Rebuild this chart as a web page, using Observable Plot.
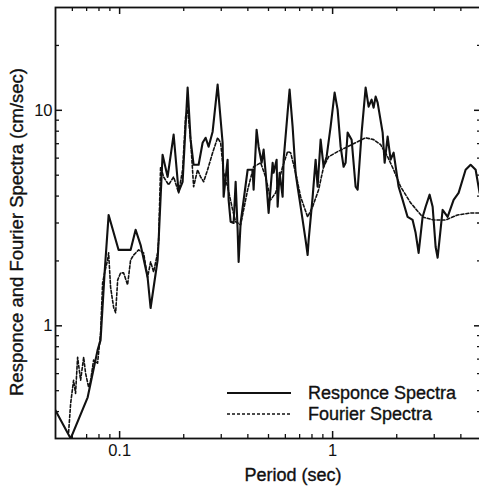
<!DOCTYPE html>
<html><head><meta charset="utf-8">
<script src="https://cdn.jsdelivr.net/npm/d3@7"></script>
<script src="https://cdn.jsdelivr.net/npm/@observablehq/plot@0.6"></script>
<style>
html,body{margin:0;padding:0;background:#fff;}
#chart{position:relative;width:479px;height:489px;overflow:hidden;}
</style></head><body><div id="chart"></div>
<script>
// ---- data ----
const responsePeriod = [0.050,0.0589,0.0708,0.0788,0.0814,0.0850,0.0888,0.0989,0.1126,0.1189,0.1255,0.1353,0.1398,0.1508,0.1525,0.1591,0.168,0.1793,0.1892,0.1976,0.2086,0.2154,0.2225,0.2349,0.2453,0.2534,0.2617,0.2733,0.2885,0.3045,0.3078,0.3214,0.3249,0.3320,0.3430,0.3505,0.3581,0.3620,0.3699,0.3991,0.4211,0.4257,0.4396,0.4493,0.4642,0.4743,0.4848,0.5007,0.5229,0.5284,0.5459,0.5519,0.5639,0.5825,0.5888,0.6146,0.6281,0.6489,0.6702,0.6849,0.6999,0.7230,0.7468,0.7633,0.7716,0.8057,0.8322,0.8502,0.8784,0.9072,0.9372,0.9786,1.0219,1.0555,1.0904,1.1261,1.1509,1.1761,1.2280,1.2823,1.3104,1.3683,1.4289,1.4757,1.5244,1.5578,1.5920,1.6268,1.7173,1.7548,1.8126,1.8726,1.9336,2.0411,2.1313,2.2494,2.3744,2.4527,2.5336,2.6455,2.7330,2.8540,2.9483,3.0455,3.1117,3.2845,3.4670,3.6991,3.9046,4.2110,4.4455,4.6929,4.8978];
const responseValue = [0.405,0.30,0.466,0.771,0.858,1.76,3.27,2.25,2.25,2.79,2.37,1.68,1.21,2.02,2.50,6.22,4.91,7.71,4.19,4.66,12.75,7.31,5.59,5.59,7.07,7.46,6.78,7.96,13.17,7.07,3.97,5.90,3.84,3.04,3.00,4.66,2.79,1.98,3.00,5.30,5.30,4.28,8.13,6.78,5.71,6.57,5.13,3.34,5.71,5.13,5.90,3.57,5.13,3.97,5.90,9.76,12.48,8.40,5.13,4.42,3.84,3.10,2.50,2.13,2.50,3.97,5.90,4.42,7.31,5.47,6.09,8.40,12.09,10.08,6.78,5.47,5.71,7.88,7.31,4.42,4.28,7.88,12.75,10.40,11.21,10.29,11.58,10.86,7.88,5.71,7.55,5.90,6.36,4.42,3.84,3.20,3.10,2.70,2.18,3.20,3.57,4.06,3.57,2.32,2.07,3.45,3.20,3.84,4.14,5.30,5.59,5.30,4.14];

const fourierPeriod = [0.0576,0.0589,0.0608,0.0621,0.0635,0.0656,0.0678,0.0692,0.0715,0.0731,0.0755,0.0788,0.0814,0.0832,0.0850,0.0878,0.0888,0.0907,0.0937,0.0958,0.0979,0.1011,0.1044,0.1090,0.1126,0.1163,0.1228,0.1296,0.1353,0.1398,0.1444,0.1508,0.1525,0.1557,0.1609,0.1698,0.1793,0.1892,0.1976,0.2041,0.2086,0.2154,0.2225,0.2323,0.2400,0.2480,0.2589,0.2733,0.2885,0.2980,0.3078,0.3214,0.3393,0.3505,0.3699,0.3991,0.4257,0.4592,0.4848,0.5117,0.5401,0.5825,0.6146,0.6350,0.6702,0.7075,0.7633,0.8057,0.8596,0.9072,0.9577,1.0555,1.1761,1.3104,1.4289,1.5578,1.6805,1.8126,1.9336,2.0857,2.3236,2.6455,2.9803,3.3928,3.8627,4.4455,4.8978];
const fourierValue = [0.32,0.437,0.559,0.486,0.715,0.559,0.715,0.603,0.519,0.559,0.693,0.671,0.925,1.58,1.76,2.02,2.18,1.51,1.22,1.15,1.63,1.76,1.76,1.55,2.02,2.13,2.25,2.18,1.68,1.98,1.78,2.18,2.50,5.47,4.91,4.51,4.91,4.14,5.30,9.35,10.08,7.31,4.42,5.30,4.91,4.66,5.30,6.36,7.46,7.07,5.13,4.42,3.45,3.04,2.94,4.28,5.47,5.71,4.91,3.84,4.14,5.47,6.43,6.36,5.13,3.97,3.20,3.57,4.28,5.47,6.09,6.43,6.78,7.15,7.46,7.31,6.93,6.09,5.30,4.42,3.72,3.20,3.10,3.10,3.27,3.34,3.34];

const xMajorTicks = [0.1, 1];
const xMinorTicks = [0.06,0.07,0.08,0.09,0.2,0.3,0.4,0.5,0.6,0.7,0.8,0.9,2,3,4];
const yMajorTicks = [1, 10];
const yMinorTicks = [0.4,0.5,0.6,0.7,0.8,0.9,2,3,4,5,6,7,8,9,20];
const xTickLabels = ["0.1", "1"];
const yTickLabels = ["1", "10"];
const seriesNames = ["Responce Spectra", "Fourier Spectra"];
const xTitle = "Period (sec)";
const yTitle = "Responce and Fourier Spectra (cm/sec)";

const response = responsePeriod.map((p, i) => ({period: p, value: responseValue[i]}));
const fourier = fourierPeriod.map((p, i) => ({period: p, value: fourierValue[i]}));

const INK = "#111";
const FONT = "'Liberation Sans', Arial, Helvetica, sans-serif";
const W = 479, H = 489;
const mL = 55, mR = -2, mT = 7, mB = 51;
const fw = W - mL - mR, fh = H - mT - mB;
const majLen = 7, minLen = 4;

const plot = Plot.plot({
  width: W, height: H,
  marginLeft: mL, marginRight: mR, marginTop: mT, marginBottom: mB,
  x: {type: "log", domain: [0.05, 5], range: [mL, W - mR]},
  y: {type: "log", domain: [0.3, 30], range: [H - mB, mT]},
  style: {fontFamily: FONT, fontSize: "16px", color: INK, background: "#fff", overflow: "visible"},
  marks: [
    Plot.line(fourier, {x: "period", y: "value", stroke: INK, strokeWidth: 1.6, strokeDasharray: "3,2", clip: true}),
    Plot.line(response, {x: "period", y: "value", stroke: INK, strokeWidth: 2.1, strokeLinejoin: "round", clip: true}),
    // inward ticks, bottom & top
    Plot.tickX(xMinorTicks, {x: d => d, insetTop: fh - minLen, stroke: INK, strokeWidth: 1.3}),
    Plot.tickX(xMajorTicks, {x: d => d, insetTop: fh - majLen, stroke: INK, strokeWidth: 1.5}),
    Plot.tickX(xMinorTicks, {x: d => d, insetBottom: fh - minLen, stroke: INK, strokeWidth: 1.3}),
    Plot.tickX(xMajorTicks, {x: d => d, insetBottom: fh - majLen, stroke: INK, strokeWidth: 1.5}),
    // inward ticks, left & right
    Plot.tickY(yMinorTicks, {y: d => d, insetRight: fw - minLen, stroke: INK, strokeWidth: 1.3}),
    Plot.tickY(yMajorTicks, {y: d => d, insetRight: fw - majLen, stroke: INK, strokeWidth: 1.5}),
    Plot.tickY(yMinorTicks, {y: d => d, insetLeft: fw - minLen, stroke: INK, strokeWidth: 1.3}),
    Plot.tickY(yMajorTicks, {y: d => d, insetLeft: fw - majLen, stroke: INK, strokeWidth: 1.5}),
    // tick labels
    Plot.axisX(xMajorTicks, {anchor: "bottom", tickSize: 0, tickPadding: 6, label: null,
      tickFormat: d => xTickLabels[xMajorTicks.indexOf(d)], fontSize: 16.5, fill: INK, stroke: INK, strokeWidth: 0.3}),
    Plot.axisY(yMajorTicks, {anchor: "left", tickSize: 0, tickPadding: 3, label: null,
      tickFormat: d => yTickLabels[yMajorTicks.indexOf(d)], fontSize: 16.5, fill: INK, stroke: INK, strokeWidth: 0.3}),
    Plot.frame({stroke: INK, strokeWidth: 1.8})
  ]
});

document.getElementById("chart").appendChild(plot);

// titles and in-plot legend
const svg = d3.select(plot);
function styleText(sel, size) {
  return sel.style("font-family", FONT).style("font-size", size)
    .attr("fill", INK).attr("stroke", INK).attr("stroke-width", 0.35);
}
styleText(svg.append("text")
  .attr("x", 293).attr("y", 481)
  .attr("text-anchor", "middle"), "18px")
  .text(xTitle);
styleText(svg.append("text")
  .attr("transform", "translate(16,232) rotate(-90)")
  .attr("text-anchor", "middle").attr("dominant-baseline", "central"), "18.5px")
  .text(yTitle);

const legend = svg.append("g");
const legendRows = [
  {name: seriesNames[0], y: 393, dash: null, w: 2},
  {name: seriesNames[1], y: 414, dash: "3,2", w: 1.5}
];
legendRows.forEach(r => {
  legend.append("line")
    .attr("x1", 227).attr("x2", 291).attr("y1", r.y).attr("y2", r.y)
    .attr("stroke", INK).attr("stroke-width", r.w)
    .attr("stroke-dasharray", r.dash);
  styleText(legend.append("text")
    .attr("x", 308).attr("y", r.y)
    .attr("text-anchor", "start").attr("dominant-baseline", "central"), "18px")
    .text(r.name);
});
</script>
</body></html>
